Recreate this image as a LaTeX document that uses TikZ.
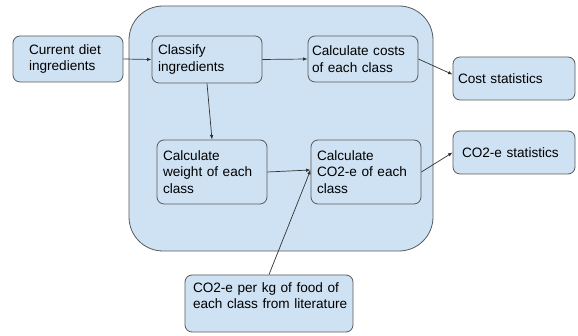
\documentclass[tikz,border=0pt]{standalone}
\usepackage{fontspec}
\setmainfont{Liberation Sans}
\usepackage{xcolor}
\usepackage{tikz}
\usetikzlibrary{arrows.meta, calc}

\definecolor{boxblue}{HTML}{CFE2F3}
\definecolor{edgegray}{HTML}{595959}

\begin{document}
\begin{tikzpicture}[
				x=1pt, y=1pt,
				box/.style={rectangle, draw=edgegray, fill=boxblue, line width=0.8pt, rounded corners=7pt, align=left, font=\fontsize{13.6}{16.3}\selectfont},
				group/.style={rectangle, draw=edgegray, fill=boxblue, line width=0.8pt, rounded corners=34pt},
				arrow/.style={-{Latex[length=4.5pt,width=3.5pt]}, line width=0.7pt, draw=black!80}
			]

			% 0. Ukuran gambar
			\useasboundingbox (0,0) rectangle (578,336);

			% 1. Kotak besar di belakang
			\draw[group] (129,85) rectangle (433,330);

			% 2. Blok baris atas
			\node[box, text width=78pt, inner xsep=16pt, minimum height=46pt] (current) at (68,277) {Current diet\\ingredients};
			\node[box, text width=98pt, inner xsep=6pt, minimum height=47pt] (classify) at (207,276.5) {Classify\\ingredients};
			\node[box, text width=102pt, inner xsep=4pt, minimum height=46pt] (costs) at (363,277) {Calculate costs\\of each class};
			\node[box, text width=112pt, inner xsep=5pt, minimum height=43pt] (coststat) at (514,257.5) {Cost statistics};

			% 3. Blok baris bawah
			\node[box, text width=98pt, inner xsep=6pt, minimum height=64pt] (weight) at (212,164) {Calculate\\weight of each\\class};
			\node[box, text width=98pt, inner xsep=6pt, minimum height=64pt] (co2calc) at (366,164) {Calculate\\CO2-e of each\\class};
			\node[box, text width=104pt, inner xsep=9pt, minimum height=43pt] (co2stat) at (514,183.5) {CO2-e statistics};

			% 4. Sumber data dari literatur (teks agak ke atas)
			\node[box, text width=152pt, inner xsep=8pt, minimum height=57pt] (lit) at (269,32.5) {\mbox{CO2-e per kg of food of}\\\mbox{each class from literature}\\\mbox{}};

			% Titik masuk panah ke CO2-e
			\coordinate (co2in) at ($(co2calc.west)+(0,2)$);

			% 5. Panah hubungan
			\draw[arrow] (current.east) -- (classify.west);
			\draw[arrow] (classify.east) -- (costs.west);
			\draw[arrow] (classify.south) -- (weight.north);
			\draw[arrow] (costs.east) -- ($(coststat.west)+(0,4)$);
			\draw[arrow] (weight.east) -- (co2in);
			\draw[arrow] (lit.north) -- (co2in);
			\draw[arrow] (co2calc.east) -- (co2stat.west);

		\end{tikzpicture}
\end{document}
